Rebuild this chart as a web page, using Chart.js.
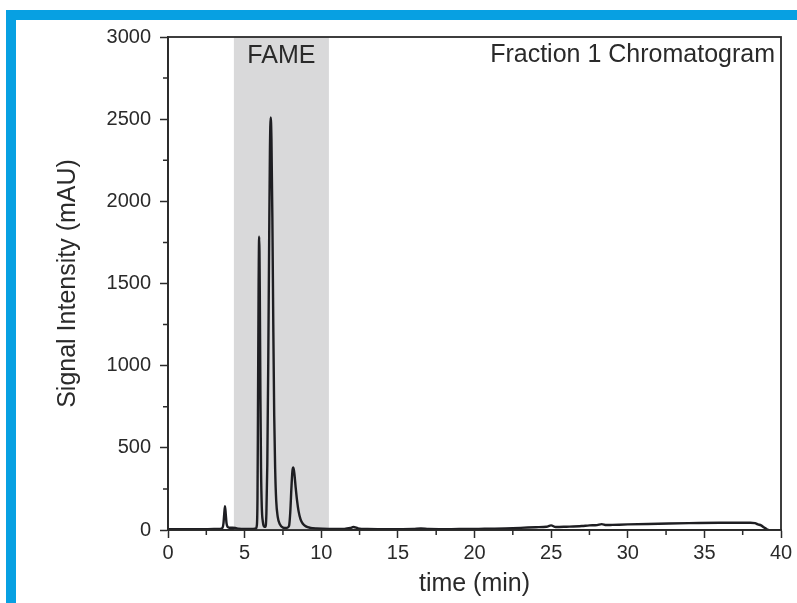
<!DOCTYPE html>
<html>
<head>
<meta charset="utf-8">
<script src="https://cdn.jsdelivr.net/npm/chart.js@4.4.1/dist/chart.umd.min.js"></script>
<style>
  html, body { margin: 0; padding: 0; background: #ffffff; }
  #wrap { position: relative; width: 797px; height: 603px; overflow: hidden; }
  #c { position: absolute; left: 0; top: 0; }
  .blue { position: absolute; background: #07a0e2; }
</style>
</head>
<body>
<div id="wrap">
  <canvas id="c" width="797" height="603"></canvas>
  <div class="blue" style="left:6px; top:10px; width:791px; height:10px;"></div>
  <div class="blue" style="left:6px; top:10px; width:10px; height:593px;"></div>
</div>
<script>
// ---- data ----
const timeMin = [0, 1, 2, 3, 3.40, 3.55, 3.62, 3.67, 3.72, 3.77, 3.82, 3.90, 4.0, 4.2, 4.4, 4.6, 5.0, 5.5,
  5.72, 5.80, 5.84, 5.87, 5.91, 5.95, 5.99, 6.03, 6.07, 6.12, 6.19, 6.28,
  6.36, 6.42, 6.48, 6.54, 6.60, 6.65, 6.70, 6.75, 6.81, 6.87, 6.93, 6.99, 7.06, 7.16, 7.30, 7.50,
  7.75, 7.90, 7.98, 8.05, 8.12, 8.18, 8.25, 8.33, 8.42, 8.52, 8.65, 8.80, 9.0, 9.3, 9.7,
  10.5, 11.5, 11.9, 12.1, 12.4, 13, 14, 15, 16, 16.5, 17, 18, 19, 20, 21, 22, 23, 24, 24.7, 25.0, 25.3,
  26, 27, 27.5, 28.0, 28.3, 28.6, 29, 30, 32, 34, 36, 38, 38.3, 38.5, 38.7, 38.9, 39.1, 39.2];
const signalMAU = [5, 5, 5, 6, 7, 12, 40, 100, 145, 95, 40, 18, 14, 14, 12, 8, 6, 6,
  8, 30, 200, 700, 1450, 1785, 1450, 820, 380, 140, 50, 20,
  20, 100, 400, 1000, 1750, 2300, 2510, 2380, 1900, 1250, 700, 380, 180, 80, 35, 15,
  12, 25, 110, 250, 360, 380, 340, 260, 180, 115, 65, 38, 22, 13, 9,
  7, 7, 12, 18, 10, 6, 5, 5, 6, 9, 6, 5, 6, 6, 8, 10, 13, 17, 20, 28, 18,
  20, 24, 28, 30, 36, 30, 31, 34, 38, 42, 44, 44, 42, 34, 28, 15, 3, 0];
const xTicks = [0, 5, 10, 15, 20, 25, 30, 35, 40];
const yTicks = [0, 500, 1000, 1500, 2000, 2500, 3000];
const fameRange = [4.3, 10.5];
const fameLabel = 'FAME';
const chartLabel = 'Fraction 1 Chromatogram';
const xTitle = 'time (min)';
const yTitle = 'Signal Intensity (mAU)';

const points = timeMin.map((t, i) => ({ x: t, y: signalMAU[i] }));
const FONT = "'Liberation Sans', Arial, Helvetica, sans-serif";
const INK = '#2a2a2a';

const decorPlugin = {
  id: 'decor',
  beforeDatasetsDraw(chart) {
    const { ctx, chartArea: a, scales: { x } } = chart;
    const x0 = x.getPixelForValue(fameRange[0]);
    const x1 = x.getPixelForValue(fameRange[1]);
    ctx.save();
    ctx.fillStyle = '#d9d9da';
    ctx.fillRect(x0, a.top, x1 - x0, a.bottom - a.top);
    ctx.restore();
  },
  afterDatasetsDraw(chart) {
    const { ctx, chartArea: a, scales: { x, y } } = chart;
    ctx.save();
    ctx.strokeStyle = INK;
    ctx.lineWidth = 1.8;
    ctx.strokeRect(a.left, a.top, a.right - a.left, a.bottom - a.top);
    ctx.lineWidth = 1.5;
    ctx.beginPath();
    for (let i = 0; i < xTicks.length - 1; i++) {
      const px = x.getPixelForValue((xTicks[i] + xTicks[i + 1]) / 2);
      ctx.moveTo(px, a.bottom);
      ctx.lineTo(px, a.bottom + 5);
    }
    for (let i = 0; i < yTicks.length - 1; i++) {
      const py = y.getPixelForValue((yTicks[i] + yTicks[i + 1]) / 2);
      ctx.moveTo(a.left, py);
      ctx.lineTo(a.left - 5, py);
    }
    ctx.stroke();
    ctx.fillStyle = INK;
    ctx.font = '25px ' + FONT;
    ctx.textBaseline = 'middle';
    ctx.textAlign = 'center';
    ctx.fillText(fameLabel, (x.getPixelForValue(fameRange[0]) + x.getPixelForValue(fameRange[1])) / 2, a.top + 19);
    ctx.textAlign = 'right';
    ctx.fillText(chartLabel, a.right - 6, a.top + 18);
    ctx.restore();
  }
};

new Chart(document.getElementById('c'), {
  type: 'line',
  data: {
    datasets: [{
      data: points,
      borderColor: '#1e1e22',
      borderWidth: 2.4,
      pointRadius: 0,
      cubicInterpolationMode: 'monotone',
      fill: false
    }]
  },
  options: {
    responsive: false,
    animation: false,
    devicePixelRatio: 1,
    layout: { padding: { top: 37, right: 16, left: 0, bottom: 0 } },
    plugins: { legend: { display: false }, tooltip: { enabled: false } },
    scales: {
      x: {
        type: 'linear', min: 0, max: 40,
        afterFit(s) { s.height = 73; },
        afterBuildTicks(s) { s.ticks = xTicks.map(v => ({ value: v })); },
        ticks: { color: INK, font: { family: FONT, size: 20 }, padding: 3, maxRotation: 0, callback: v => String(v) },
        grid: { drawOnChartArea: false, drawTicks: true, tickLength: 8, tickWidth: 1.5, tickColor: INK },
        border: { display: true, color: INK, width: 1.8 },
        title: { display: true, text: xTitle, color: INK, font: { family: FONT, size: 25 }, padding: { top: 0, bottom: 4 } }
      },
      y: {
        min: 0, max: 3000,
        afterFit(s) { s.width = 168; },
        afterBuildTicks(s) { s.ticks = yTicks.map(v => ({ value: v })); },
        ticks: { color: INK, font: { family: FONT, size: 20 }, padding: 9, callback: v => String(v) },
        grid: { drawOnChartArea: false, drawTicks: true, tickLength: 8, tickWidth: 1.5, tickColor: INK },
        border: { display: true, color: INK, width: 1.8 },
        title: { display: true, text: yTitle, color: INK, font: { family: FONT, size: 25 }, padding: { top: 53, bottom: 0 } }
      }
    }
  },
  plugins: [decorPlugin]
});
</script>
</body>
</html>
